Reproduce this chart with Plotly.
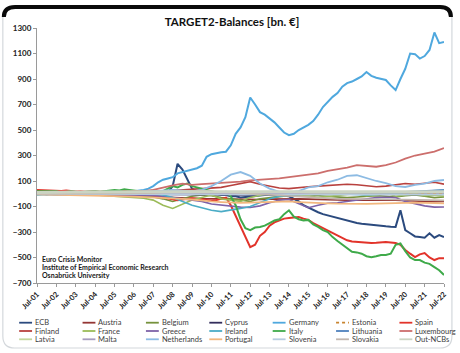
import pandas as pd
import plotly.graph_objects as go

# ---------------- data (bn. EUR) ----------------
dates_q = pd.date_range("2001-07-01", "2022-07-01", freq="QS")   # quarterly
dates_h = pd.date_range("2001-07-01", "2022-07-01", freq="6MS")  # half-yearly

ecb = [-2, -2,
       -3, -3, -4, -4,  -5, -5, -5, -5,  -5, -6, -6, -6,  -6, -7, -7, -7,
       -8, -8, -8, -8,  -8, -5, 0, 5,  5, 10, 60, 235,  190, 110, 40, 20,
       10, 15, 10, 0,  -10, -10, -20, -20,  -30, -25, -20, -20,  -15, -10, -10, -10,
       -10, -15, -20, -40,  -60, -90, -110, -130,  -145, -160, -170, -185,
       -195, -205, -215, -225,  -230, -235, -240, -245,  -250, -252, -255, -258,
       -260, -130, -285, -310,  -335, -340, -345, -310,
       -345, -325, -340]
germany = [10, 5,
           -5, 0, 5, 0,  -10, 0, 5, -5,  0, 5, 0, 5,  0, 10, 5, 15,
           10, 15, 20, 20,  30, 40, 60, 90,  110, 120, 130, 160,  170, 180, 190, 200,
           220, 290, 310, 320,  326, 330, 380, 470,  520, 600, 755, 700,  640, 620, 590, 560,
           520, 480, 460, 470,  500, 520, 540, 570,  620, 680, 720, 760,
           790, 840, 868, 880,  900, 920, 955, 925,  910, 900, 892, 850,
           813, 900, 980, 1100,  1095, 1060, 1080, 1128,
           1265, 1181, 1190]
spain = [30, 28,
         25, 25, 20, 22,  25, 20, 18, 20,  15, 18, 20, 15,  18, 20, 15, 20,
         25, 15, 10, 5,  0, -5, -10, -20,  -30, -35, -40, -50,  -45, -40, -35, -40,
         -45, -50, -55, -50,  -40, -30, -90, -170,  -250, -340, -418, -400,  -330, -300, -250, -225,
         -210, -195, -190, -185,  -182, -195, -206, -230,  -250, -265, -290, -308,
         -330, -350, -365, -375,  -379, -382, -385, -387,  -385, -380, -379, -383,
         -387, -400, -441, -470,  -497, -475, -465, -500,
         -520, -505, -505]
italy = [20, 20,
         15, 15, 20, 10,  15, 20, 15, 10,  15, 20, 20, 15,  20, 25, 30, 25,
         35, 30, 25, 20,  15, 20, 25, 10,  20, 40, 60, 50,  70, 80, 60, 50,
         40, 30, 20, 10,  10, 15, -20, -90,  -200, -270, -285, -265,  -260, -250, -230, -210,
         -200, -160, -130, -180,  -200, -210, -205, -240,  -260, -285, -300, -340,
         -370, -400, -430, -455,  -460, -470, -490, -497,  -490, -480, -480, -470,
         -400, -390, -450, -500,  -520, -520, -540, -550,
         -575, -600, -637]

austria = [0, -2, -3, -5, -5, -6, -8, -10, -10, -12,
           -14, -15, -20, -25, -30, -35, -35, -38, -40, -40,
           -42, -45, -48, -45, -42, -40, -38, -40, -42, -45,
           -45, -48, -50, -50, -48, -45, -48, -50, -55, -58,
           -60, -62, -60]
belgium = [5, 5, 3, 2, 0, -2, -5, -8, -10, -12,
           -15, -20, -25, -40, -60, -40, -20, -10, -15, -30,
           -40, -50, -60, -40, -30, -20, -10, -5, -10, -15,
           -20, -25, -30, -25, -20, -15, -20, -25, -15, -10,
           -20, -30, -25]
cyprus = [0, 0, 0, -1, -1, -1, -2, -2, -2, -3,
          -3, -4, -5, -5, -6, -7, -8, -8, -8, -9,
          -10, -10, -9, -8, -7, -5, -4, -3, -3, -2,
          -2, -2, -2, -3, -3, -3, -4, -4, -5, -5,
          -5, -5, -5]
estonia = [0, 0, 0, 0, 0, 0, 0, 0, 0, 0,
           0, -1, -1, -2, -2, -2, -2, -2, -3, -3,
           -3, -2, -2, -2, -2, -1, -1, -1, 0, 0,
           0, 1, 1, 1, 1, 2, 2, 2, 2, 3,
           3, 3, 3]
finland = [5, 5, 5, 5, 5, 5, 5, 5, 5, 5,
           8, 10, 15, 20, 25, 30, 30, 35, 40, 50,
           65, 80, 95, 75, 60, 45, 40, 50, 55, 60,
           65, 70, 75, 70, 60, 55, 60, 70, 80, 75,
           85, 90, 75]
france = [10, 8, 5, 3, 0, -5, -10, -15, -20, -25,
          -30, -35, -50, -90, -115, -80, -50, -30, -10, -40,
          -50, -60, -30, -10, 5, 10, 0, -20, -15, -30,
          -20, -10, -5, 0, -15, -10, 5, -20, -10, 0,
          -15, -10, -20]
greece = [-2, -3, -3, -4, -5, -5, -6, -6, -7, -8,
          -8, -10, -15, -20, -30, -40, -45, -60, -80, -90,
          -100, -105, -108, -95, -70, -50, -45, -80, -110, -90,
          -75, -70, -60, -45, -35, -30, -28, -30, -60, -80,
          -95, -105, -104]
ireland = [-10, -5, 0, 2, 3, 5, 5, 8, 10, 10,
           10, 5, 0, -10, -30, -60, -90, -110, -130, -140,
           -130, -115, -100, -70, -40, -20, -10, -5, 0, 5,
           5, 0, -5, -10, -10, -5, 0, 10, 15, 20,
           25, 30, 30]
lithuania = [0, 0, 0, 0, 0, 0, -1, -1, -2, -2,
             -3, -3, -4, -5, -5, -4, -3, -3, -2, -2,
             -2, -2, -1, -1, 0, 0, 5, 8, 10, 12,
             12, 10, 8, 6, 5, 6, 8, 10, 15, 20,
             25, 30, 30]
luxembourg = [0, 0, 5, 5, 5, 10, 10, 10, 15, 15,
              20, 20, 30, 50, 65, 80, 70, 75, 80, 80,
              85, 95, 105, 110, 110, 120, 130, 140, 150, 160,
              180, 190, 205, 225, 220, 212, 225, 245, 275, 300,
              315, 330, 358]
latvia = [0, 0, 0, 0, 0, 0, 0, 0, 0, 0,
          0, 0, 0, -1, -1, -1, -2, -2, -2, -2,
          -2, -2, -2, -2, -2, -1, -1, 0, 0, 2,
          3, 4, 5, 6, 6, 5, 5, 6, 8, 10,
          10, 12, 12]
malta = [0, 0, 0, 0, 0, 0, 0, 0, 0, 0,
         0, 0, 1, 1, 2, 2, 2, 3, 3, 3,
         3, 3, 4, 4, 5, 5, 5, 5, 6, 6,
         6, 6, 7, 7, 7, 8, 8, 8, 9, 9,
         9, 10, 10]
netherlands = [0, -5, -10, -8, -5, -5, 0, 5, 5, 10,
               10, 15, 20, 25, 30, 25, 20, 30, 60, 100,
               150, 170, 140, 80, 40, 15, 10, 20, 50, 60,
               90, 110, 140, 145, 120, 100, 83, 60, 53, 70,
               80, 100, 108]
portugal = [-5, -6, -8, -10, -12, -14, -15, -16, -18, -20,
            -22, -25, -28, -30, -35, -40, -45, -55, -60, -65,
            -70, -72, -70, -68, -65, -62, -60, -65, -70, -72,
            -75, -78, -80, -82, -80, -78, -75, -75, -72, -70,
            -72, -75, -75]
slovenia = [0, 0, 0, 0, 0, 0, 0, 0, 0, 0,
            -1, -2, -3, -4, -5, -5, -5, -6, -6, -6,
            -6, -6, -5, -5, -4, -3, -2, -2, -2, -3,
            -3, -4, -4, -4, -5, -5, -5, -5, -6, -6,
            -7, -7, -7]
slovakia = [0, 0, 0, 0, 0, 0, 0, 0, 0, 0,
            0, 0, 5, 10, 15, 20, 25, 25, 20, 15,
            10, 10, 5, 0, -5, -10, -15, -20, -25, -30,
            -35, -40, -40, -42, -44, -45, -45, -45, -46, -48,
            -50, -52, -52]
out_ncbs = [10, 12, 12, 13, 14, 14, 15, 15, 16, 16,
            16, 15, 15, 14, 14, 15, 15, 16, 16, 15,
            15, 14, 14, 15, 15, 15, 16, 16, 15, 15,
            15, 16, 16, 15, 15, 15, 16, 16, 15, 15,
            15, 16, 16]

# (name, dates, values, colour, width, dash)
series = [
    ("ECB", dates_q, ecb, "#2B4A7E", 2.0, "solid"),
    ("Austria", dates_h, austria, "#943634", 1.6, "solid"),
    ("Belgium", dates_h, belgium, "#76923C", 1.6, "solid"),
    ("Cyprus", dates_h, cyprus, "#332E5C", 1.6, "solid"),
    ("Germany", dates_q, germany, "#4FA8DE", 2.0, "solid"),
    ("Estonia", dates_h, estonia, "#C8842F", 1.4, "dot"),
    ("Spain", dates_q, spain, "#E2332A", 2.0, "solid"),
    ("Finland", dates_h, finland, "#B8413E", 1.6, "solid"),
    ("France", dates_h, france, "#9BBB59", 1.6, "solid"),
    ("Greece", dates_h, greece, "#7E62A8", 1.6, "solid"),
    ("Ireland", dates_h, ireland, "#4BACC6", 1.6, "solid"),
    ("Italy", dates_q, italy, "#3FAA4A", 2.0, "solid"),
    ("Lithuania", dates_h, lithuania, "#4F81BD", 1.6, "solid"),
    ("Luxembourg", dates_h, luxembourg, "#CC6E6C", 1.8, "solid"),
    ("Latvia", dates_h, latvia, "#C3D69B", 1.6, "solid"),
    ("Malta", dates_h, malta, "#A79CBF", 1.6, "solid"),
    ("Netherlands", dates_h, netherlands, "#8DBBE3", 1.8, "solid"),
    ("Portugal", dates_h, portugal, "#F2B77E", 1.8, "solid"),
    ("Slovenia", dates_h, slovenia, "#B7CCE0", 1.6, "solid"),
    ("Slovakia", dates_h, slovakia, "#C2B6AE", 1.6, "solid"),
    ("Out-NCBs", dates_h, out_ncbs, "#CBD4C2", 3.0, "solid"),
]

for name, d, v, *_ in series:
    assert len(d) == len(v), (name, len(d), len(v))

# ---------------- geometry ----------------
W, H = 460, 353
L, R, T, B = 37, 12, 28, 70
PW, PH = W - L - R, H - T - B


def px(x):
    return (x - L) / PW


def py(y):
    return (H - B - y) / PH


fig = go.Figure()
for name, d, v, col, wd, dash in series:
    fig.add_trace(go.Scatter(x=d, y=v, mode="lines", name=name, showlegend=False,
                             line=dict(color=col, width=wd, dash=dash)))

font = "Lato, 'Open Sans', sans-serif"
shapes = []
annotations = []

# manual legend: 3 rows x 7 columns
row_y = [322.7, 331.0, 339.3]
for i, (name, d, v, col, wd, dash) in enumerate(series):
    r, c = divmod(i, 7)
    x0 = 19 + 64 * c
    shapes.append(dict(type="line", xref="paper", yref="paper",
                       x0=px(x0), x1=px(x0 + 13), y0=py(row_y[r]), y1=py(row_y[r]),
                       line=dict(color=col, width=1.8, dash=dash)))
    annotations.append(dict(text=name, xref="paper", yref="paper",
                            x=px(x0 + 14), y=py(row_y[r]), xanchor="left", yanchor="middle",
                            showarrow=False, font=dict(family=font, size=7.5, color="#404040")))

# source text
for txt, yy in [("Euro Crisis Monitor", 258.5), ("Institute of Empirical Economic Research", 266.5),
                ("Osnabrück University", 274.5)]:
    annotations.append(dict(text="<b>%s</b>" % txt, xref="paper", yref="paper",
                            x=px(40), y=py(yy), xanchor="left", yanchor="middle",
                            showarrow=False, font=dict(family=font, size=7, color="#1a1a1a")))

# frame: light rounded border + dark top edge
r0 = 12
bx0, bx1, by0, by1 = 2.5, 456, 6, 348


def P(x, y):
    return "%.5f,%.5f" % (px(x), py(y))


frame = ("M " + P(bx0, by0 + r0) + " Q " + P(bx0, by0) + " " + P(bx0 + r0, by0) +
         " L " + P(bx1 - r0, by0) + " Q " + P(bx1, by0) + " " + P(bx1, by0 + r0) +
         " L " + P(bx1, by1 - r0) + " Q " + P(bx1, by1) + " " + P(bx1 - r0, by1) +
         " L " + P(bx0 + r0, by1) + " Q " + P(bx0, by1) + " " + P(bx0, by1 - r0) + " Z")
shapes.append(dict(type="path", xref="paper", yref="paper", path=frame,
                   line=dict(color="#D4D8DC", width=1.2), layer="below"))
top = ("M " + P(3.5, 17) + " Q " + P(3.5, 7) + " " + P(15, 7) +
       " L " + P(444, 7) + " Q " + P(455, 7) + " " + P(455, 17))
shapes.append(dict(type="path", xref="paper", yref="paper", path=top,
                   line=dict(color="#0a0a0a", width=4)))

fig.update_layout(
    width=W, height=H,
    margin=dict(l=L, r=R, t=T, b=B),
    paper_bgcolor="white", plot_bgcolor="white",
    showlegend=False,
    title=dict(text="<b>TARGET2-Balances [bn. €]</b>", x=232 / W, xanchor="center",
               y=1 - 22 / H, yanchor="middle", yref="container",
               font=dict(family=font, size=11.5, color="#111")),
    xaxis=dict(type="date", range=["2001-07-01", "2022-07-01"],
               tickformat="%b-%y", dtick="M12", tick0="2001-07-01", tickangle=-45,
               showline=True, linecolor="#9a9a9a", linewidth=1, ticks="outside", ticklen=3,
               tickcolor="#9a9a9a", showgrid=False, zeroline=False,
               tickfont=dict(family=font, size=7.5, color="#222", weight="bold")),
    yaxis=dict(range=[-700, 1300], tick0=-700, dtick=200,
               showline=True, linecolor="#9a9a9a", linewidth=1, ticks="outside", ticklen=3,
               tickcolor="#9a9a9a", showgrid=False, zeroline=False,
               tickfont=dict(family=font, size=8, color="#222", weight="bold")),
    shapes=shapes,
    annotations=annotations,
)

fig.write_html("out.html")
